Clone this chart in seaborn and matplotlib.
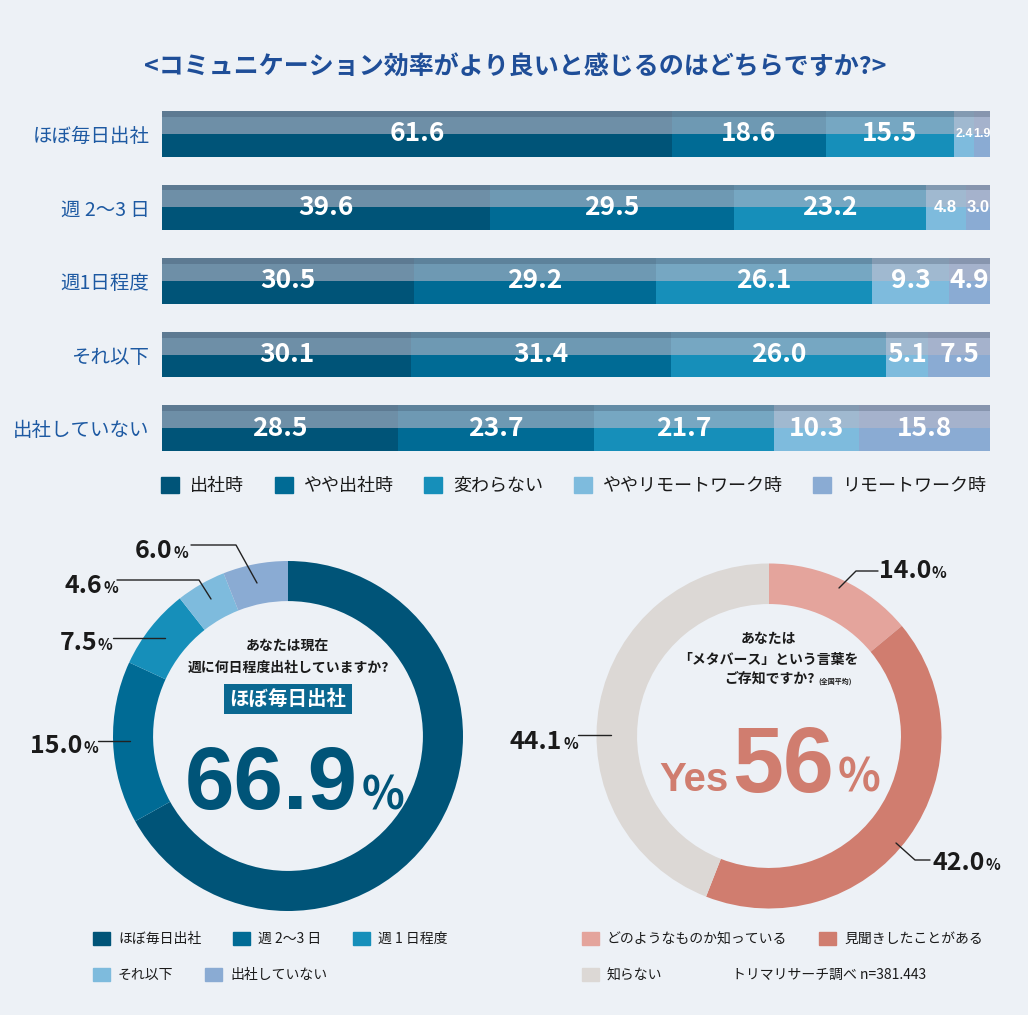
'''
Office attendance vs. communication efficiency infographic
'''

import numpy as np
import pandas as pd
import matplotlib
matplotlib.use('Agg')
import matplotlib.pyplot as plt
from matplotlib.patches import Patch
from matplotlib import font_manager
import seaborn as sns

W, H = 1028, 1015

# Stacked bar data (percent)
rows = ['ほぼ毎日出社', '週 2〜3 日', '週1日程度', 'それ以下', '出社していない']
answers = ['出社時', 'やや出社時', '変わらない', 'ややリモートワーク時', 'リモートワーク時']
office = [61.6, 39.6, 30.5, 30.1, 28.5]
slightly_office = [18.6, 29.5, 29.2, 31.4, 23.7]
no_change = [15.5, 23.2, 26.1, 26.0, 21.7]
slightly_remote = [2.4, 4.8, 9.3, 5.1, 10.3]
remote = [1.9, 3.0, 4.9, 7.5, 15.8]

# Donut 1: how often do you go to the office
freq_labels = ['ほぼ毎日出社', '週 2〜3 日', '週 1 日程度', 'それ以下', '出社していない']
freq_values = [66.9, 15.0, 7.5, 4.6, 6.0]

# Donut 2: do you know the word "metaverse"
meta_labels = ['どのようなものか知っている', '見聞きしたことがある', '知らない']
meta_values = [14.0, 42.0, 44.1]

blues = ['#005478', '#006B95', '#168FBA', '#7EBBDD', '#8AABD3']
reds = ['#E4A49C', '#D07D6F', '#DCD8D5']
bg = '#EDF1F6'
title_blue = '#1F4E98'
dark = '#1A1A1A'

sns.set_theme(style='white')
plt.rcParams['font.family'] = ['Noto Sans CJK JP', 'DejaVu Sans']
names = {f.name for f in font_manager.fontManager.ttflist}
narrow = 'Liberation Sans Narrow' if 'Liberation Sans Narrow' in names else 'Liberation Sans'

fig = plt.figure(figsize=(W / 100, H / 100), dpi=100, facecolor=bg)

# Title
fig.text(515 / W, 1 - 68 / H, '<コミュニケーション効率がより良いと感じるのはどちらですか?>',
         ha='center', va='center', fontsize=18, fontweight='bold', color=title_blue)

# ---- Stacked bars ----
ax = fig.add_axes([162 / W, 1 - 465 / H, 828 / W, 368 / H])
ax.set_facecolor('none')
df = pd.DataFrame(dict(zip(answers, [office, slightly_office, no_change, slightly_remote, remote])))
cum = df.cumsum(axis=1)
cum['row'] = rows
bar_w = 0.62
for j in reversed(range(len(answers))):
    sns.barplot(data=cum, x=answers[j], y='row', color=blues[j], saturation=1,
                width=bar_w, errorbar=None, linewidth=0, ax=ax)

# glossy top half
ypos = np.arange(len(rows))
totals = cum[answers[-1]]
ax.barh(ypos - bar_w / 4, totals, height=bar_w / 2, color='#B8B8C8', alpha=0.6, lw=0)
ax.barh(ypos - bar_w / 2 + 0.04, totals, height=0.08, color='#2E3F55', alpha=0.25, lw=0)

for i in range(len(rows)):
    for j, a in enumerate(answers):
        v = df[a][i]
        x = cum[a][i] - v / 2
        if v < 3:
            ax.text(x, i, f'{v:.1f}', ha='center', va='center', color='white',
                    fontsize=9, fontweight='bold', family=narrow)
        elif v < 4.85:
            ax.text(x, i, f'{v:.1f}', ha='center', va='center', color='white',
                    fontsize=12, fontweight='bold', family=narrow)
        else:
            ax.text(x, i, f'{v:.1f}', ha='center', va='center', color='white',
                    fontsize=19, fontweight='bold')

ax.set_xlim(0, 100.05)
ax.set_ylim(len(rows) - 0.5, -0.5)
ax.set_xlabel('')
ax.set_ylabel('')
ax.set_xticks([])
ax.tick_params(axis='y', length=0, pad=9, labelsize=14, labelcolor='#1D59A2')
sns.despine(ax=ax, left=True, bottom=True)

fig.legend([Patch(color=c) for c in blues], answers, loc='center left',
           bbox_to_anchor=(161 / W, 1 - 486 / H), ncol=5, frameon=False, fontsize=13,
           handlelength=1.0, handleheight=1.0, handletextpad=0.6, columnspacing=1.7,
           borderpad=0, borderaxespad=0, labelcolor=dark)


# ---- Donuts ----
def donut_axes(cx, cy, r, pad=1.04):
    s = r * pad
    a = fig.add_axes([(cx - s) / W, 1 - (cy + s) / H, 2 * s / W, 2 * s / H])
    return a, pad


ax1, p1 = donut_axes(288, 736, 175)
ax1.pie(freq_values, colors=blues, startangle=90, counterclock=False,
        wedgeprops=dict(width=0.229, linewidth=0))
ax1.set_xlim(-p1, p1)
ax1.set_ylim(-p1, p1)

ax2, p2 = donut_axes(769, 736, 172.5)
ax2.pie(meta_values, colors=reds, startangle=90, counterclock=False,
        wedgeprops=dict(width=0.235, linewidth=0))
ax2.set_xlim(-p2, p2)
ax2.set_ylim(-p2, p2)

# overlay in pixel coordinates for callouts and centre texts
ov = fig.add_axes([0, 0, 1, 1], zorder=5)
ov.set_xlim(0, W)
ov.set_ylim(H, 0)
ov.axis('off')

# (number right edge, baseline, leader line points)
freq_callouts = [None,
                 (82, 753, [(98, 741), (130, 741)]),
                 (97, 650, [(113, 638), (165, 638)]),
                 (102, 593, [(117, 580), (199, 580), (211, 599)]),
                 (172, 558, [(191, 545), (236, 545), (257, 583)])]
meta_callouts = [(931, 578, [(878, 571), (856, 571), (839, 588)]),
                 (985, 870, [(930, 860), (915, 860), (896, 843)]),
                 (562, 749, [(578, 735), (611, 735)])]

for values, callouts in [(freq_values, freq_callouts), (meta_values, meta_callouts)]:
    for v, c in zip(values, callouts):
        if c is None:
            continue
        xr, yb, pts = c
        ov.text(xr, yb, f'{v:.1f}', ha='right', va='baseline', fontsize=18,
                fontweight='bold', color=dark)
        ov.text(xr + 1, yb, '%', ha='left', va='baseline', fontsize=11,
                fontweight='bold', color=dark)
        xs, ys = zip(*pts)
        ov.plot(xs, ys, color='#222222', lw=1.0)

# centre of donut 1
ov.text(287, 647, 'あなたは現在', ha='center', va='center', fontsize=10,
        fontweight='bold', color=dark)
ov.text(288, 668, '週に何日程度出社していますか?', ha='center', va='center', fontsize=10,
        fontweight='bold', color=dark)
ov.text(288, 699, freq_labels[0], ha='center', va='center', fontsize=14,
        fontweight='bold', color='white',
        bbox=dict(boxstyle='square,pad=0.3', fc='#0A6891', ec='none'))
ov.text(358, 809, f'{freq_values[0]:.1f}', ha='right', va='baseline', fontsize=64,
        fontweight='bold', color=blues[0], family=narrow)
ov.text(362, 809, '%', ha='left', va='baseline', fontsize=32,
        fontweight='bold', color=blues[0])

# centre of donut 2
yes = round(meta_values[0] + meta_values[1])
ov.text(768, 639, 'あなたは', ha='center', va='center', fontsize=10,
        fontweight='bold', color=dark)
ov.text(768, 660, '「メタバース」という言葉を', ha='center', va='center', fontsize=10,
        fontweight='bold', color=dark)
ov.text(769, 679, 'ご存知ですか?', ha='center', va='center', fontsize=10,
        fontweight='bold', color=dark)
ov.text(818, 681, '(全国平均)', ha='left', va='center', fontsize=5,
        fontweight='bold', color=dark)
ov.text(729, 791, 'Yes', ha='right', va='baseline', fontsize=29,
        fontweight='bold', color=reds[1], family=narrow)
ov.text(732, 792, f'{yes}', ha='left', va='baseline', fontsize=66,
        fontweight='bold', color=reds[1], family=narrow)
ov.text(838, 791, '%', ha='left', va='baseline', fontsize=32,
        fontweight='bold', color=reds[1])

# ---- Donut legends ----
leg_kw = dict(loc='center left', frameon=False, fontsize=10, handlelength=1.2,
              handleheight=1.15, handletextpad=0.6, columnspacing=2.3,
              borderpad=0, borderaxespad=0, labelcolor=dark)
fig.legend([Patch(color=c) for c in blues[:3]], freq_labels[:3], ncol=3,
           bbox_to_anchor=(93 / W, 1 - 939 / H), **leg_kw)
fig.legend([Patch(color=c) for c in blues[3:]], freq_labels[3:], ncol=2,
           bbox_to_anchor=(93 / W, 1 - 975 / H), **leg_kw)
fig.legend([Patch(color=c) for c in reds[:2]], meta_labels[:2], ncol=2,
           bbox_to_anchor=(582 / W, 1 - 939 / H), **leg_kw)
fig.legend([Patch(color=reds[2])], meta_labels[2:], ncol=1,
           bbox_to_anchor=(582 / W, 1 - 975 / H), **leg_kw)
fig.text(732 / W, 1 - 975 / H, 'トリマリサーチ調べ n=381.443', ha='left', va='center',
         fontsize=10, color=dark)

fig.savefig('out.png', dpi=100, facecolor=bg)
